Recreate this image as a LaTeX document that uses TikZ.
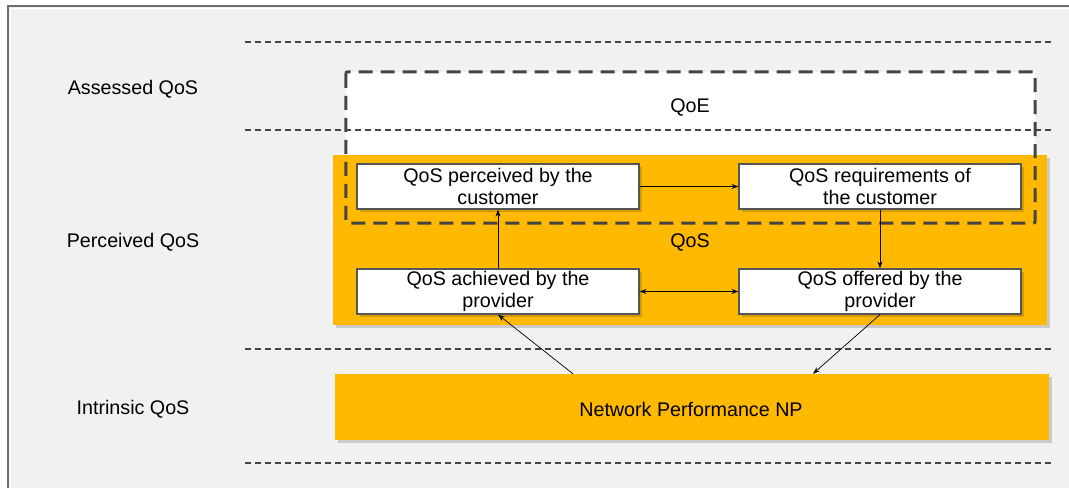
\documentclass[tikz,border=0pt]{standalone}
\usepackage{fontspec}
\setmainfont{Liberation Sans}
\usetikzlibrary{arrows.meta,shadows}

\definecolor{qosorange}{RGB}{255,185,0}
\definecolor{bggray}{RGB}{241,241,241}
\definecolor{edgegray}{RGB}{85,85,85}
\definecolor{dashgray}{RGB}{68,68,68}
\definecolor{framegray}{RGB}{110,110,110}

\begin{document}
\begin{tikzpicture}[x=1pt,y=-1pt,
  font=\fontsize{19.7}{22}\selectfont,
  softshadow/.style={drop shadow={shadow xshift=2.5pt,shadow yshift=-2.5pt,fill=black,opacity=0.16}},
  panel/.style={rectangle, fill=qosorange, inner sep=0pt, softshadow},
  qosbox/.style={rectangle, draw=edgegray, line width=1.2pt, fill=white,
    minimum width=282pt, minimum height=45pt, inner sep=0pt, align=center, softshadow},
  layerline/.style={dashgray, line width=1.4pt, dash pattern=on 6pt off 4pt},
  qoedash/.style={dashgray, line width=3pt, dash pattern=on 14pt off 8pt, rounded corners=2pt},
  arr/.style={-{Stealth[length=7pt,width=5pt]}, line width=0.7pt},
  dblarr/.style={{Stealth[length=7pt,width=5pt]}-{Stealth[length=7pt,width=5pt]}, line width=0.7pt}
]
\useasboundingbox (0,0) rectangle (1069,488);

% slide background and frame
\fill[bggray] (8,6) rectangle (1069,488);
\draw[white, line width=1pt] (10,488) -- (10,8.5) -- (1069,8.5);
\draw[framegray, line width=1.4pt] (8,488) -- (8,6) -- (1069,6);

% white area of the QoE domain
\node[rectangle, fill=white, inner sep=0pt, minimum width=689pt, minimum height=151pt] (qoe) at (690.5,147.5) {};

% horizontal layer separators
\foreach \yy in {42,130,349,463}
  \draw[layerline] (245,\yy) -- (1053,\yy);

% layer names
\node (assessed) at (133,89.5) {Assessed QoS};
\node (perceived) at (133,242.5) {Perceived QoS};
\node (intrinsic) at (133,409.5) {Intrinsic QoS};

% QoS panel and network performance bar
\node[panel, minimum width=714pt, minimum height=170pt] (qos) at (690,240) {};
\node[panel, minimum width=714pt, minimum height=66pt] (np) at (692,407) {};
\node (nplabel) at (691,409) {Network Performance NP};

% QoE domain outline
\draw[qoedash] (qoe.north west) rectangle (qoe.south east);
\node (qoelabel) at (690,107) {QoE};
\node (qoslabel) at (690,242) {QoS};

% QoS viewpoints
\node[qosbox] (perc) at (498,186.5) {QoS perceived by the\\customer};
\node[qosbox] (req) at (880,186.5) {QoS requirements of\\the customer};
\node[qosbox] (ach) at (498,291.5) {QoS achieved by the\\provider};
\node[qosbox] (off) at (880,291.5) {QoS offered by the\\provider};

% relations
\draw[arr] (perc) -- (req);
\draw[arr] (req) -- (off);
\draw[arr] (ach) -- (perc);
\draw[dblarr] (ach) -- (off);
\draw[arr] ([xshift=-119pt]np.north) -- (ach.south);
\draw[arr] (off.south) -- ([xshift=121pt]np.north);
\end{tikzpicture}
\end{document}
